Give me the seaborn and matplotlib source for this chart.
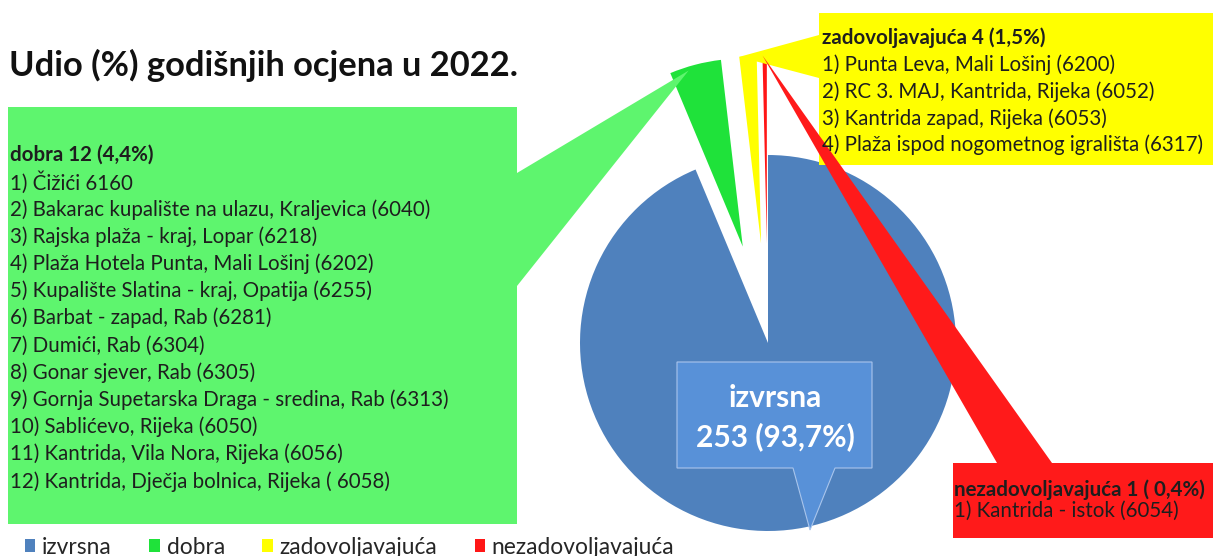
import matplotlib
matplotlib.use("Agg")
import numpy as np
import matplotlib.pyplot as plt
from matplotlib.patches import Polygon
import seaborn as sns

# ─────────────────────────────────────────────
# DATA
# ─────────────────────────────────────────────
TITLE = "Udio (%) godišnjih ocjena u 2022."

categories = ["izvrsna", "dobra", "zadovoljavajuća", "nezadovoljavajuća"]
counts     = [253, 12, 4, 1]
shares     = ["93,7%", "4,4%", "1,5%", " 0,4%"]

dobra_sites = [
    "Čižići 6160",
    "Bakarac kupalište na ulazu, Kraljevica (6040)",
    "Rajska plaža - kraj, Lopar (6218)",
    "Plaža Hotela Punta, Mali Lošinj (6202)",
    "Kupalište Slatina - kraj, Opatija (6255)",
    "Barbat - zapad, Rab (6281)",
    "Dumići, Rab (6304)",
    "Gonar sjever, Rab (6305)",
    "Gornja Supetarska Draga - sredina, Rab (6313)",
    "Sablićevo, Rijeka (6050)",
    "Kantrida, Vila Nora, Rijeka (6056)",
    "Kantrida, Dječja bolnica, Rijeka ( 6058)",
]
zadovoljavajuca_sites = [
    "Punta Leva, Mali Lošinj (6200)",
    "RC 3. MAJ, Kantrida, Rijeka (6052)",
    "Kantrida zapad, Rijeka (6053)",
    "Plaža ispod nogometnog igrališta (6317)",
]
nezadovoljavajuca_sites = [
    "Kantrida - istok (6054)",
]

# ─────────────────────────────────────────────
# STYLE / LAYOUT (pixel units, y measured from top)
# ─────────────────────────────────────────────
W, H = 1213, 556
SLICE_COLORS = ["#4F81BD", "#1FE23A", "#FFFF00", "#FF1616"]
BOX_COLORS   = ["#5891D8", "#5EF56E", "#FFFF00", "#FF1A1A"]
TEXT_COLOR   = "#1E1E1E"
PIE_CENTER   = (768, 343)
PIE_R        = 188
EXPLODE      = 0.53
LIST_SIZE    = 14.8

sns.set_theme(style="white")
plt.rcParams["font.family"] = ["Lato", "DejaVu Sans"]


def Y(y):
    return H - y


def wedge_point(w, frac_angle, frac_r=1.0):
    th = np.deg2rad(w.theta1 + frac_angle * (w.theta2 - w.theta1))
    cx, cy = w.center
    return cx + frac_r * w.r * np.cos(th), cy + frac_r * w.r * np.sin(th)


def callout(ax, box, base, apex, color, z):
    x0, y0, x1, y1 = box
    ax.add_patch(Polygon([(x0, Y(y0)), (x1, Y(y0)), (x1, Y(y1)), (x0, Y(y1))],
                         closed=True, fc=color, ec="none", zorder=z))
    ax.add_patch(Polygon([apex, (base[0], Y(base[1])), (base[2], Y(base[3]))],
                         closed=True, fc=color, ec="none", zorder=z))


def list_text(ax, x, y, header, items, step, size, color=TEXT_COLOR):
    ax.text(x, Y(y), header, fontsize=size, fontweight="bold", color=color,
            va="center", ha="left", zorder=10)
    for i, item in enumerate(items):
        ax.text(x, Y(y + step * (i + 1)), f"{i + 1}) {item}", fontsize=size,
                color=color, va="center", ha="left", zorder=10)


fig = plt.figure(figsize=(W / 100, H / 100), dpi=100)
ax = fig.add_axes([0, 0, 1, 1])

wedges, _ = ax.pie(
    counts,
    colors=SLICE_COLORS,
    startangle=90,
    counterclock=False,
    explode=[0] + [EXPLODE * PIE_R] * 3,
    center=(PIE_CENTER[0], Y(PIE_CENTER[1])),
    radius=PIE_R,
    wedgeprops=dict(linewidth=0),
    frame=False,
)
ax.set_xlim(0, W)
ax.set_ylim(0, H)
ax.set_aspect("equal")
ax.axis("off")

headers = [f"{c} {n} ({s})" for c, n, s in zip(categories, counts, shares)]

# green callout (dobra)
callout(ax, (8, 107, 517, 524), (517, 173, 517, 286),
        wedge_point(wedges[1], 0.65, 0.98), BOX_COLORS[1], 3)
list_text(ax, 10, 155, headers[1], dobra_sites, 27.2, LIST_SIZE)

# yellow callout (zadovoljavajuća)
callout(ax, (819, 13, 1213, 165), (819, 35, 819, 78),
        wedge_point(wedges[2], 1.0), BOX_COLORS[2], 3)
list_text(ax, 822, 38, headers[2], zadovoljavajuca_sites, 26.8, LIST_SIZE)

# red callout (nezadovoljavajuća)
callout(ax, (953, 463, 1213, 538), (997, 463, 1052, 463),
        wedge_point(wedges[3], 1.0), BOX_COLORS[3], 4)
list_text(ax, 954, 490, headers[3], nezadovoljavajuca_sites, 20.5, LIST_SIZE)

# label inside the big slice
lbl = [(677, 362), (872, 362), (872, 468), (835, 468), (810, 530), (793, 468), (677, 468)]
ax.add_patch(Polygon([(x, Y(y)) for x, y in lbl], closed=True, fc=BOX_COLORS[0],
                     ec="#A9C5EC", lw=0.8, zorder=5))
ax.text(775, Y(398), categories[0], fontsize=21.5, fontweight="bold", color="white",
        ha="center", va="center", zorder=10)
ax.text(775, Y(437), f"{counts[0]} ({shares[0]})", fontsize=21.5, fontweight="bold",
        color="white", ha="center", va="center", zorder=10)

ax.text(9, Y(65), TITLE, fontsize=24.8, fontweight="bold", color="#111111",
        ha="left", va="center", zorder=10)

fig.legend(wedges, categories, loc="center left", bbox_to_anchor=(25 / W, 1 - 547 / H),
           ncol=4, frameon=False, fontsize=16.4, handlelength=0.45, handleheight=0.45,
           handletextpad=0.3, columnspacing=1.65, borderpad=0, borderaxespad=0,
           labelcolor="#262626")

fig.savefig("out.png", dpi=100)
